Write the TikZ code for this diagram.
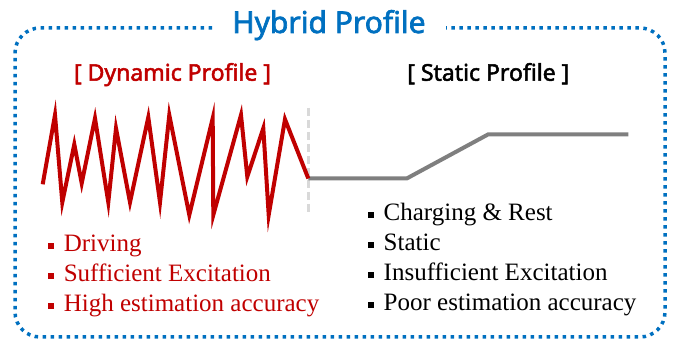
\documentclass[tikz,border=0pt]{standalone}
\usepackage{fontspec}
\setmainfont{Liberation Serif}
\newfontfamily\hdr{Noto Sans}[FakeBold=2.2]
\definecolor{hblue}{RGB}{0,112,192}
\definecolor{hred}{RGB}{192,0,0}
\definecolor{hgray}{RGB}{127,127,127}
\definecolor{hlight}{RGB}{217,217,217}
\tikzset{
  frame/.style={draw=hblue, line width=3.5pt, dash pattern=on 3.5pt off 4.5pt, rounded corners=25pt},
  heading/.style={inner sep=0pt, anchor=base, font=\hdr\fontsize{23}{27}\selectfont},
  item/.style={inner sep=0pt, anchor=base west, font=\fontsize{25}{29}\selectfont},
  dynline/.style={draw=hred, line width=4pt, line join=miter, miter limit=20},
  statline/.style={draw=hgray, line width=4pt},
  divider/.style={draw=hlight, line width=3pt, dash pattern=on 8pt off 4pt}
}
\newcommand{\bul}{\rule[3pt]{6pt}{6pt}\hspace{10pt}}
\begin{document}
\begin{tikzpicture}[x=1pt,y=-1pt]
\useasboundingbox (0,0) rectangle (678,339);
% frame
\draw[frame] (212,28) -- (15,28) -- (15,337) -- (665,337) -- (665,28) -- (446,28);
\node[heading, text=hblue, font=\hdr\fontsize{30}{36}\selectfont] (title) at (329,33) {Hybrid Profile};
% headings
\node[heading, text=hred] (dyn) at (172.5,80.7) {[ Dynamic Profile ]};
\node[heading, text=black] (stat) at (488.3,80.7) {[ Static Profile ]};
% divider
\draw[divider] (308.3,108) -- (308.3,215);
% static profile
\draw[statline] (308.3,178.5) -- (406.7,178.5) -- (488.3,134.3) -- (628.3,134.3);
% dynamic profile
\draw[dynline] (42.7,184.3) -- (55,115) -- (62.3,202.3) -- (74.3,144.3) -- (81.7,183.3)
  -- (95,118.3) -- (108.3,202.3) -- (116,128.3) -- (130,202.3) -- (148.3,117.3)
  -- (160,202.3) -- (169.3,115) -- (189.3,215) -- (212.7,118.3) -- (213.3,215)
  -- (241,115) -- (247.3,176.7) -- (263.3,128.3) -- (268.7,215) -- (285,119.3)
  -- (308.3,178.5);
% lists
\node[item, text=hred] (d1) at (47.6,252) {\bul Driving};
\node[item, text=hred] (d2) at (47.6,282) {\bul Sufficient Excitation};
\node[item, text=hred] (d3) at (47.6,312) {\bul High estimation accuracy};
\node[item] (s1) at (367.5,221) {\bul Charging \& Rest};
\node[item] (s2) at (367.5,251) {\bul Static};
\node[item] (s3) at (367.5,281) {\bul Insufficient Excitation};
\node[item] (s4) at (367.5,311) {\bul Poor estimation accuracy};
\end{tikzpicture}
\end{document}
